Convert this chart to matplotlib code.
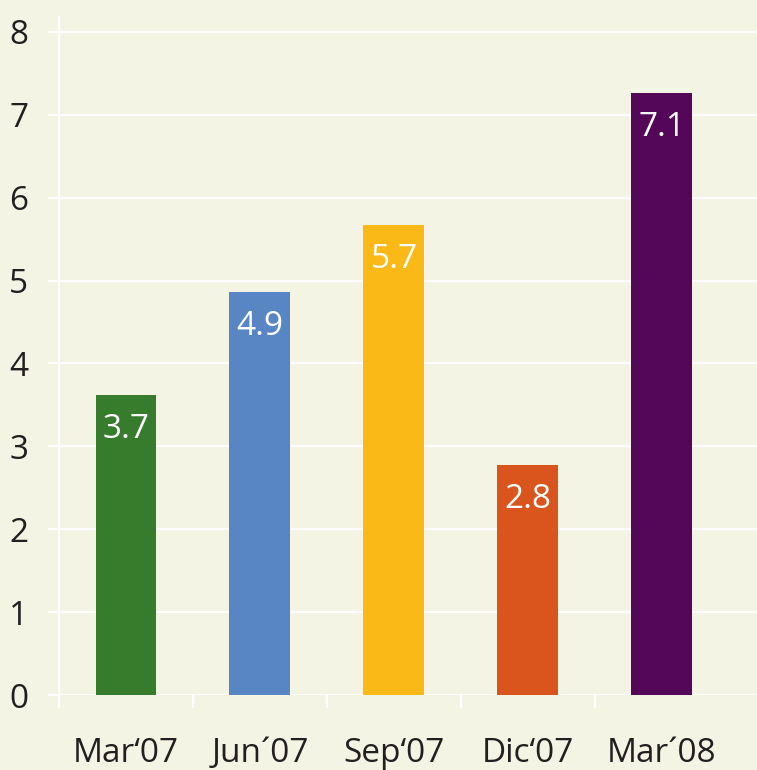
import matplotlib
matplotlib.use("Agg")
import matplotlib.pyplot as plt
import numpy as np

categories = ["Mar\u201807", "Jun\u00b407", "Sep\u201807", "Dic\u201807", "Mar\u00b408"]
values = [3.62, 4.86, 5.67, 2.78, 7.26]
value_labels = ["3.7", "4.9", "5.7", "2.8", "7.1"]
colors = ["#377B2D", "#5886C4", "#FBB918", "#DA541E", "#540758"]
yticks = [0, 1, 2, 3, 4, 5, 6, 7, 8]

bg = "#F3F4E4"
txt = "#231F20"
plt.rcParams["font.family"] = ["Open Sans", "DejaVu Sans"]

fig = plt.figure(figsize=(7.57, 7.70), dpi=100, facecolor=bg)
ax = fig.add_axes([59/757, 75/770, 698/757, 678/770], facecolor=bg)

x = np.arange(len(categories))
ax.bar(x, values, width=0.455, color=colors, zorder=3)

for xi, v, lab in zip(x, values, value_labels):
    ax.annotate(lab, (xi, v), xytext=(0, -13), textcoords="offset points",
                ha="center", va="top", color="white", fontsize=24, zorder=4)

ax.set_xlim(-0.5, 4.71)
ax.set_ylim(0, 8.18)

ax.set_yticks(yticks)
ax.set_yticklabels([str(t) for t in yticks])
ax.yaxis.grid(True, color="white", linewidth=1.6, zorder=1)
ax.tick_params(axis="y", length=8, width=1.6, color="white", pad=14,
               labelsize=24, labelcolor=txt, direction="out")

ax.set_xticks(np.arange(len(categories) + 1)[:-1] - 0.5)
ax.set_xticklabels([])
ax.tick_params(axis="x", which="major", length=9, width=1.6, color="white", direction="out")
ax.set_xticks(x, minor=True)
ax.set_xticklabels(categories, minor=True)
ax.tick_params(axis="x", which="minor", length=0, pad=30, labelsize=24, labelcolor=txt)

for s in ["top", "right", "bottom"]:
    ax.spines[s].set_visible(False)
ax.spines["left"].set_color("white")
ax.spines["left"].set_linewidth(1.6)

fig.savefig("out.png", dpi=100, facecolor=bg)
